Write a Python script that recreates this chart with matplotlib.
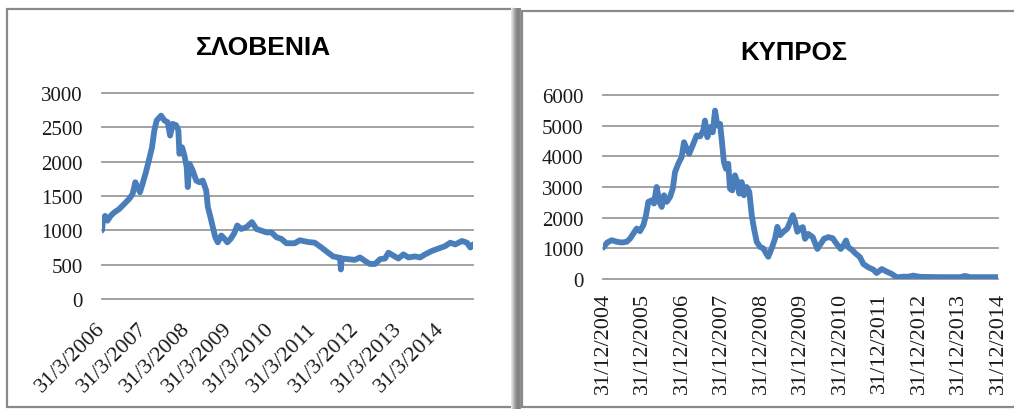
import matplotlib
matplotlib.use("Agg")
import matplotlib.pyplot as plt
import pandas as pd
from matplotlib.patches import Rectangle

# ---------------- data ----------------
slo_title = "ΣΛΟΒΕΝΙΑ"
slo_dates = [
    "2006-03-31", "2006-04-10", "2006-04-27", "2006-05-17", "2006-06-16", "2006-07-14",
    "2006-08-26", "2006-10-09", "2006-11-21", "2006-12-20", "2007-01-12", "2007-02-01",
    "2007-02-21", "2007-03-16", "2007-04-14", "2007-05-12", "2007-06-05", "2007-06-25",
    "2007-07-15", "2007-08-22", "2007-09-20", "2007-10-18", "2007-11-08", "2007-11-30",
    "2007-12-30", "2008-01-18", "2008-01-27", "2008-02-19", "2008-03-10", "2008-03-30",
    "2008-04-08", "2008-04-23", "2008-05-21", "2008-06-20", "2008-07-18", "2008-08-15",
    "2008-09-14", "2008-09-28", "2008-10-21", "2008-11-10", "2008-12-01", "2008-12-23",
    "2009-01-22", "2009-02-20", "2009-03-15", "2009-04-12", "2009-05-11", "2009-06-09",
    "2009-07-13", "2009-08-26", "2009-10-13", "2009-11-20", "2010-01-03", "2010-02-15",
    "2010-03-30", "2010-05-12", "2010-06-24", "2010-08-06", "2010-10-17", "2010-11-29",
    "2011-02-09", "2011-04-07", "2011-06-04", "2011-07-31", "2011-09-13", "2011-10-26",
    "2011-11-12", "2011-11-18", "2011-11-27", "2012-01-21", "2012-03-18", "2012-05-01",
    "2012-06-13", "2012-07-26", "2012-09-08", "2012-10-21", "2012-12-03", "2013-01-01",
    "2013-02-14", "2013-03-28", "2013-05-11", "2013-06-23", "2013-08-19", "2013-10-01",
    "2013-11-13", "2014-01-11", "2014-03-09", "2014-05-05", "2014-06-18", "2014-07-31",
    "2014-09-27", "2014-11-09", "2014-12-08", "2014-12-31",
]
slo_values = [
    1000, 1170, 1210, 1140, 1215, 1260,
    1310, 1385, 1460, 1530, 1700, 1630,
    1555, 1680, 1850, 2040, 2210, 2455,
    2600, 2670, 2600, 2575, 2380, 2550,
    2530, 2455, 2115, 2210, 2090, 1920,
    1630, 1970, 1870, 1725, 1700, 1725,
    1580, 1340, 1190, 1045, 900, 825,
    925, 875, 825, 875, 950, 1070,
    1020, 1045, 1120, 1020, 995, 970,
    970, 900, 875, 812, 812, 855,
    830, 820, 750, 675, 620, 605,
    600, 430, 590, 580, 570, 605,
    555, 510, 510, 580, 590, 675,
    630, 590, 650, 605, 620, 605,
    650, 700, 735, 770, 820, 795,
    845, 820, 750, 795,
]
slo_ticks = ["2006-03-31", "2007-03-31", "2008-03-31", "2009-03-31", "2010-03-31",
             "2011-03-31", "2012-03-31", "2013-03-31", "2014-03-31"]
slo_tick_labels = ["31/3/2006", "31/3/2007", "31/3/2008", "31/3/2009", "31/3/2010",
                   "31/3/2011", "31/3/2012", "31/3/2013", "31/3/2014"]
slo_yticks = [0, 500, 1000, 1500, 2000, 2500, 3000]
slo_xrange = ["2006-03-31", "2014-12-31"]

cyp_title = "ΚΥΠΡΟΣ"
cyp_dates = [
    "2004-12-31", "2005-02-09", "2005-03-21", "2005-05-07", "2005-06-22", "2005-08-08",
    "2005-09-08", "2005-10-08", "2005-11-08", "2005-12-08", "2006-01-08", "2006-02-02",
    "2006-02-23", "2006-03-26", "2006-04-16", "2006-05-11", "2006-06-05", "2006-06-27",
    "2006-07-18", "2006-08-12", "2006-09-12", "2006-10-07", "2006-10-28", "2006-11-27",
    "2006-12-28", "2007-01-19", "2007-02-13", "2007-03-08", "2007-04-09", "2007-05-16",
    "2007-06-16", "2007-07-16", "2007-08-01", "2007-08-23", "2007-09-17", "2007-10-12",
    "2007-11-02", "2007-11-23", "2007-12-18", "2008-01-02", "2008-01-23", "2008-02-11",
    "2008-03-03", "2008-03-19", "2008-04-09", "2008-05-04", "2008-05-26", "2008-06-13",
    "2008-07-05", "2008-07-26", "2008-08-20", "2008-09-14", "2008-10-06", "2008-10-27",
    "2008-11-21", "2008-12-21", "2009-01-22", "2009-02-16", "2009-03-08", "2009-04-08",
    "2009-05-10", "2009-05-31", "2009-06-25", "2009-07-26", "2009-09-01", "2009-09-26",
    "2009-10-21", "2009-11-11", "2009-12-02", "2009-12-27", "2010-01-21", "2010-02-11",
    "2010-03-13", "2010-04-23", "2010-06-05", "2010-07-06", "2010-08-05", "2010-09-14",
    "2010-10-24", "2010-11-30", "2011-01-07", "2011-01-31", "2011-02-25", "2011-03-18",
    "2011-04-18", "2011-05-19", "2011-07-04", "2011-08-04", "2011-09-19", "2011-11-04",
    "2011-12-05", "2012-01-21", "2012-03-07", "2012-04-23", "2012-06-08", "2012-08-08",
    "2012-09-23", "2012-11-06", "2013-01-09", "2013-07-12", "2014-01-14", "2014-03-01",
    "2014-04-16", "2014-12-31",
]
cyp_values = [
    1020, 1190, 1265, 1215, 1190, 1215,
    1320, 1485, 1645, 1560, 1755, 2080,
    2515, 2565, 2460, 3000, 2515, 2350,
    2730, 2515, 2675, 2945, 3485, 3760,
    3975, 4460, 4245, 4085, 4355, 4680,
    4650, 4840, 5165, 4625, 4950, 4785,
    5490, 5005, 5060, 4570, 3810, 3595,
    3760, 2945, 2890, 3380, 3160, 2785,
    3160, 2730, 3000, 2835, 2080, 1645,
    1215, 1050, 995, 835, 725, 995,
    1320, 1700, 1430, 1540, 1645, 1865,
    2080, 1865, 1540, 1650, 1690, 1310,
    1470, 1365, 980, 1145, 1310, 1365,
    1330, 1145, 980, 1090, 1255, 1035,
    960, 850, 710, 490, 380, 305,
    195, 325, 240, 165, 55, 75,
    75, 110, 70, 60, 60, 100,
    60, 60,
]
cyp_ticks = ["2004-12-31", "2005-12-31", "2006-12-31", "2007-12-31", "2008-12-31",
             "2009-12-31", "2010-12-31", "2011-12-31", "2012-12-31", "2013-12-31",
             "2014-12-31"]
cyp_tick_labels = ["31/12/2004", "31/12/2005", "31/12/2006", "31/12/2007", "31/12/2008",
                   "31/12/2009", "31/12/2010", "31/12/2011", "31/12/2012", "31/12/2013",
                   "31/12/2014"]
cyp_yticks = [0, 1000, 2000, 3000, 4000, 5000, 6000]
cyp_xrange = ["2004-12-31", "2014-12-31"]

# ---------------- style ----------------
W, H = 1014, 410
LINE_COLOR = "#4a7ebb"
GRID_COLOR = "#9a9a9a"
TICK_FONT = "Liberation Serif"
TITLE_FONT = "Liberation Sans"

fig = plt.figure(figsize=(W / 100, H / 100), dpi=100)
fig.patch.set_facecolor("white")


def rect_px(x0, y0, x1, y1):
    return [x0 / W, 1 - y1 / H, (x1 - x0) / W, (y1 - y0) / H]


def add_frame(x0, y0, x1, y1, color="#8a8a8a", lw=1.6, z=0):
    l, b, w, h = rect_px(x0, y0, x1, y1)
    fig.add_artist(Rectangle((l, b), w, h, transform=fig.transFigure,
                             facecolor="white", edgecolor=color, lw=lw, zorder=z))


add_frame(7, 10, 513, 408, z=0)

# soft shadow strip between the panels (light -> dark -> frame)
shade = ["#e4e4e4", "#d2d2d2", "#bebebe", "#aaaaaa", "#989898", "#8c8c8c",
         "#848484", "#808080", "#848484", "#909090"]
for i, c in enumerate(shade):
    l, b, w, h = rect_px(511 + i, 9, 512.2 + i, 410)
    fig.add_artist(Rectangle((l, b), w, h, transform=fig.transFigure,
                             facecolor=c, edgecolor="none", zorder=1))

add_frame(522, 12, 1016, 408, color="#8a8a8a", z=2)


def draw_panel(ax_px, dates, values, xrange_, ticks, tick_labels, yticks,
               rotation, xpad, title, title_xy, title_size):
    ax = fig.add_axes(rect_px(*ax_px))
    ax.set_facecolor("none")
    ax.set_zorder(5)
    x = pd.to_datetime(dates)
    ax.plot(x, values, color=LINE_COLOR, lw=4.2, solid_joinstyle="round",
            solid_capstyle="round", zorder=3)
    ax.set_xlim(pd.to_datetime(xrange_[0]), pd.to_datetime(xrange_[1]))
    ax.set_ylim(yticks[0], yticks[-1])
    ax.set_yticks(yticks)
    ax.set_yticklabels([str(v) for v in yticks], family=TICK_FONT, fontsize=15)
    ax.set_xticks(pd.to_datetime(ticks))
    ax.set_xticklabels(tick_labels, family=TICK_FONT, fontsize=16, rotation=rotation,
                       ha="right", va="center", rotation_mode="anchor")
    ax.tick_params(axis="both", length=0, colors="#1a1a1a")
    ax.tick_params(axis="y", pad=14)
    ax.tick_params(axis="x", pad=xpad)
    for s in ax.spines.values():
        s.set_visible(False)
    ax.yaxis.grid(True, color=GRID_COLOR, lw=1.3)
    ax.xaxis.grid(False)
    ax.set_axisbelow(True)
    for gl in ax.get_ygridlines():
        gl.set_clip_on(False)
    fig.text(title_xy[0] / W, 1 - title_xy[1] / H, title, family=TITLE_FONT,
             fontweight="bold", fontsize=title_size, ha="center", va="center",
             zorder=6)
    return ax


draw_panel((102, 94, 473, 300), slo_dates, slo_values, slo_xrange, slo_ticks,
           slo_tick_labels, slo_yticks, 45, 19, slo_title, (263, 48), 19)
draw_panel((603, 96, 998, 280), cyp_dates, cyp_values, cyp_xrange, cyp_ticks,
           cyp_tick_labels, cyp_yticks, 90, 9, cyp_title, (794, 53), 18.5)

fig.savefig("out.png", dpi=100, facecolor="white")
